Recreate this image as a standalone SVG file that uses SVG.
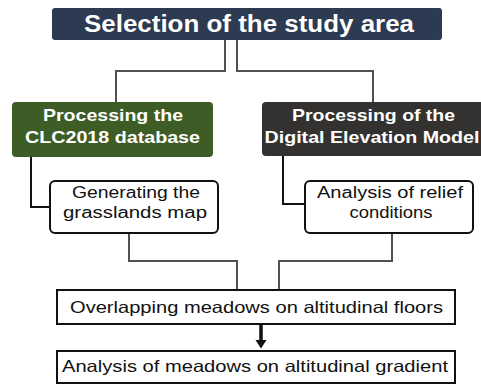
<svg xmlns="http://www.w3.org/2000/svg" width="481" height="385" viewBox="0 0 481 385">
  <style>
    .head { font-family: "Liberation Sans", Arial, sans-serif; font-weight: bold; fill: #ffffff; text-anchor: middle; }
    .body { font-family: "Liberation Sans", Arial, sans-serif; fill: #111111; text-anchor: middle; }
    .box { fill: #ffffff; stroke: #111111; stroke-width: 2; }
    .link { fill: none; stroke: #505050; stroke-width: 2; }
    .link-dark { fill: none; stroke: #111111; stroke-width: 2; }
  </style>
  <rect width="481" height="385" fill="#ffffff"/>

  <!-- connectors -->
  <g id="connectors">
    <path class="link" d="M225 40 V71 H116 V102"/>
    <path class="link" d="M237 40 V71 H373 V102"/>
    <path class="link-dark" d="M31 157 V207 H50"/>
    <path class="link-dark" d="M283 156 V204 H305"/>
    <path class="link" d="M129 233 V261 H237 V290"/>
    <path class="link" d="M392 233 V261 H279 V290"/>
    <path d="M261 324 V341" stroke="#111111" stroke-width="3.5" fill="none"/>
    <polygon points="255.5,340 266.5,340 261,348.5" fill="#111111"/>
  </g>

  <g id="study-area">
    <rect x="52" y="8" width="390" height="32" rx="3" fill="#2c3a52"/>
    <text class="head" x="249" y="32" font-size="23" textLength="330" lengthAdjust="spacingAndGlyphs">Selection of the study area</text>
  </g>

  <g id="clc-processing">
    <rect x="12" y="102" width="201" height="55" rx="4" fill="#3e5d26"/>
    <text class="head" x="113" y="121" font-size="17" textLength="140" lengthAdjust="spacingAndGlyphs">Processing the</text>
    <text class="head" x="112.5" y="143" font-size="17" textLength="175" lengthAdjust="spacingAndGlyphs">CLC2018 database</text>
  </g>

  <g id="dem-processing">
    <rect x="262" y="102" width="224" height="54" rx="4" fill="#333231"/>
    <text class="head" x="373.5" y="121" font-size="17" textLength="163" lengthAdjust="spacingAndGlyphs">Processing of the</text>
    <text class="head" x="372" y="143" font-size="17" textLength="215" lengthAdjust="spacingAndGlyphs">Digital Elevation Model</text>
  </g>

  <g id="grasslands-map">
    <rect class="box" x="50" y="181" width="168" height="52" rx="5"/>
    <text class="body" x="136" y="198" font-size="16" textLength="128" lengthAdjust="spacingAndGlyphs">Generating the</text>
    <text class="body" x="135" y="218" font-size="16" textLength="144" lengthAdjust="spacingAndGlyphs">grasslands map</text>
  </g>

  <g id="relief-analysis">
    <rect class="box" x="305" y="181" width="168" height="52" rx="5"/>
    <text class="body" x="390" y="198" font-size="16" textLength="146" lengthAdjust="spacingAndGlyphs">Analysis of relief</text>
    <text class="body" x="391" y="218" font-size="16" textLength="83" lengthAdjust="spacingAndGlyphs">conditions</text>
  </g>

  <g id="overlap">
    <rect class="box" x="57" y="290" width="398" height="34"/>
    <text class="body" x="256.5" y="313" font-size="16.5" textLength="373" lengthAdjust="spacingAndGlyphs">Overlapping meadows on altitudinal floors</text>
  </g>

  <g id="gradient-analysis">
    <rect class="box" x="57" y="351" width="398" height="32"/>
    <text class="body" x="255" y="372" font-size="16.5" textLength="386" lengthAdjust="spacingAndGlyphs">Analysis of meadows on altitudinal gradient</text>
  </g>
</svg>
